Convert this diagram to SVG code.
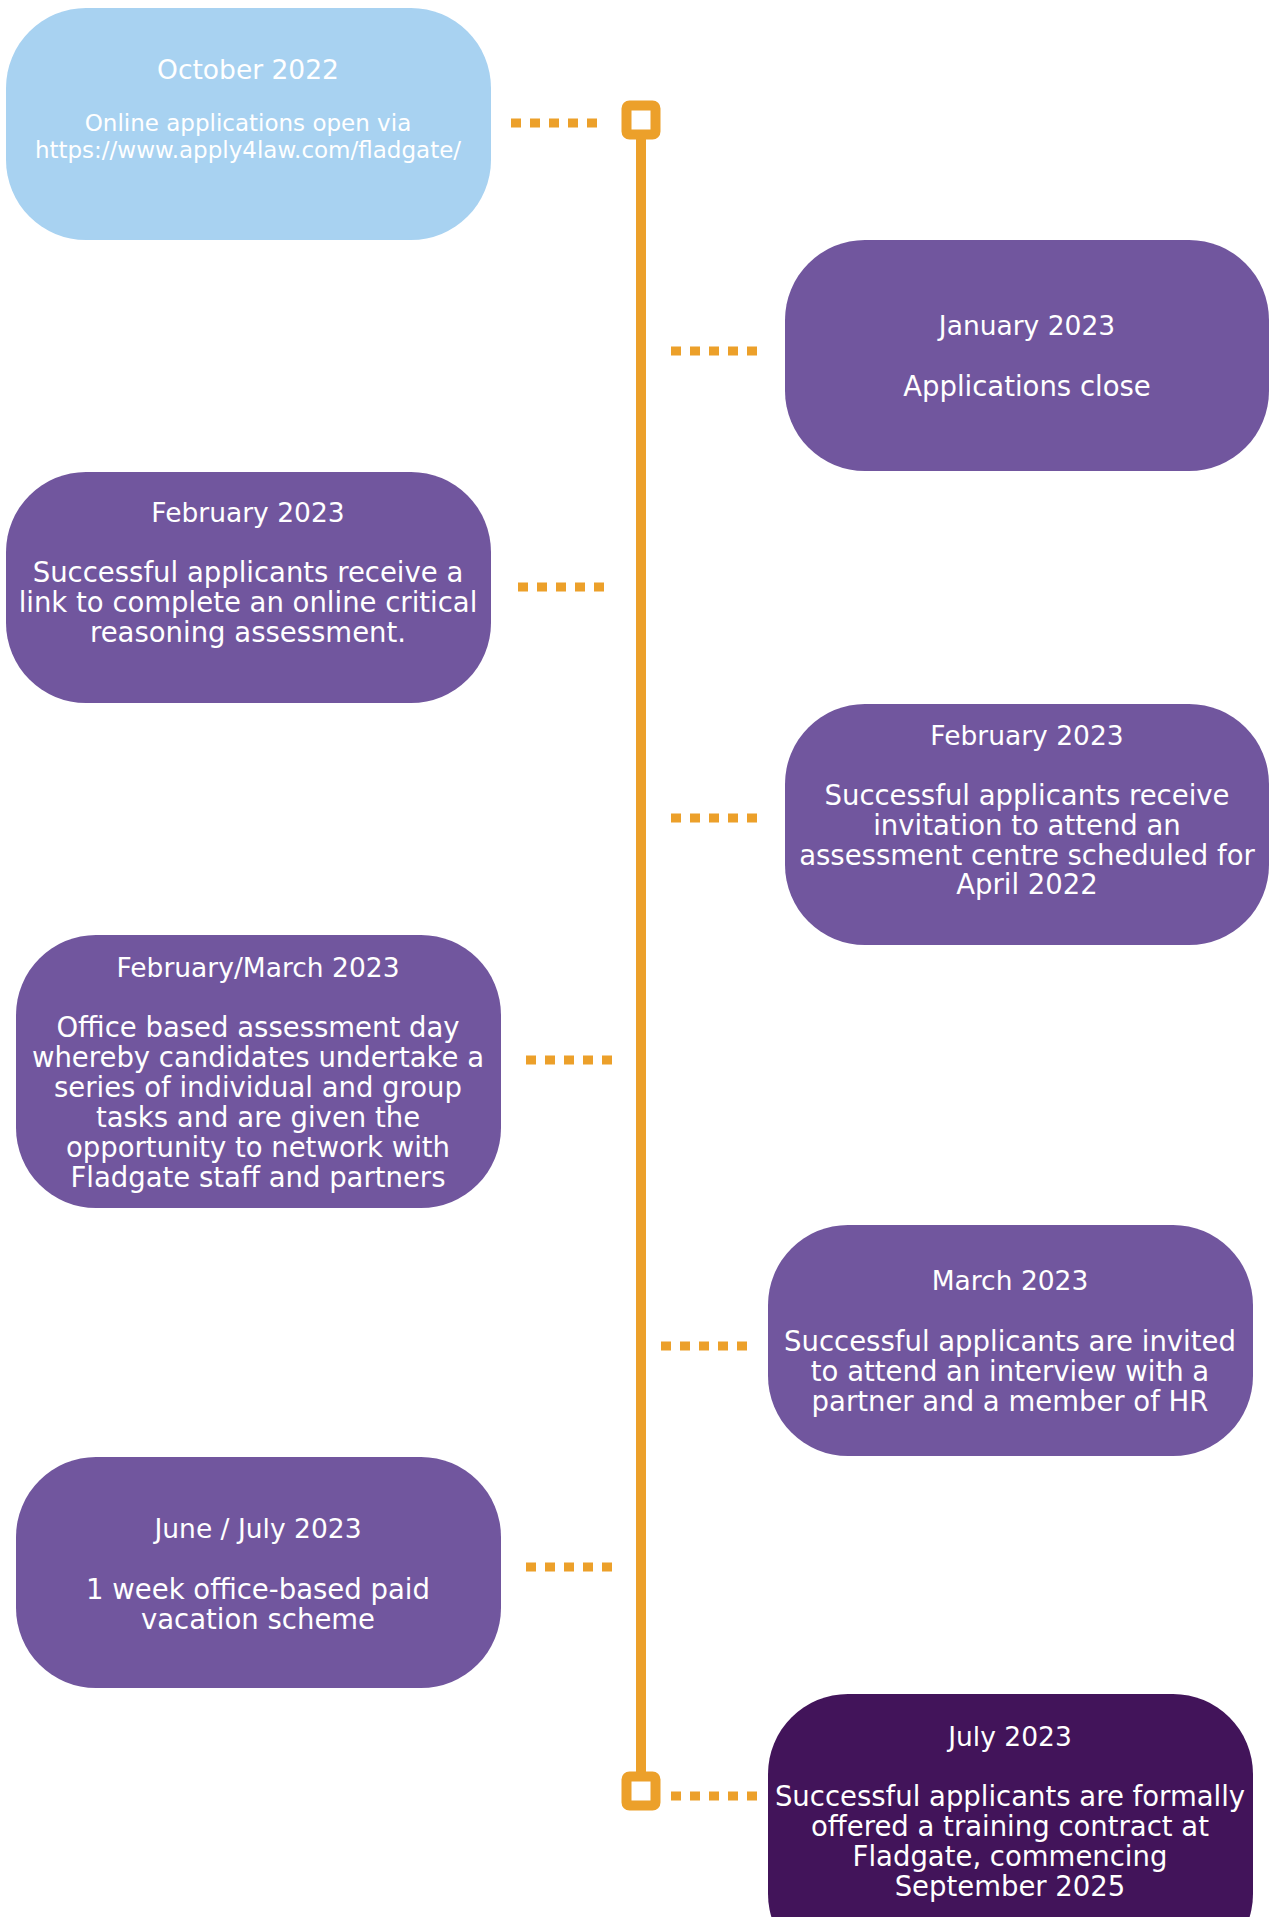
<svg xmlns="http://www.w3.org/2000/svg" width="1269" height="1917" viewBox="0 0 1269 1917">
<style>
.box{fill:#71569E}
.t{font-family:"DejaVu Sans",sans-serif;fill:#ffffff;text-anchor:middle}
.h{font-size:26.5px}
.b{font-size:27.5px}
.s{font-size:23px}
.dots{stroke:#ECA02A;stroke-width:9;stroke-dasharray:10 9;fill:none}
.line{stroke:#ECA02A;stroke-width:10;fill:none}
.mk{fill:#ffffff;stroke:#ECA02A;stroke-width:10}
</style>
<rect width="1269" height="1917" fill="#ffffff"/>
<g id="connectors">
<line class="line" x1="641" y1="135" x2="641" y2="1776"/>
<rect class="mk" x="626.5" y="105.5" width="29" height="29" rx="3"/>
<rect class="mk" x="626.5" y="1776.5" width="29" height="29" rx="3"/>
<line class="dots" x1="511" y1="123" x2="601" y2="123"/>
<line class="dots" x1="671" y1="351" x2="761" y2="351"/>
<line class="dots" x1="518" y1="587" x2="608" y2="587"/>
<line class="dots" x1="671" y1="818" x2="761" y2="818"/>
<line class="dots" x1="526" y1="1060" x2="616" y2="1060"/>
<line class="dots" x1="661" y1="1346" x2="751" y2="1346"/>
<line class="dots" x1="526" y1="1567" x2="616" y2="1567"/>
<line class="dots" x1="671" y1="1796" x2="761" y2="1796"/>
</g>
<g id="n1">
<rect x="6" y="8" width="485" height="232" rx="80" fill="#A8D2F1"/>
<text class="t h" x="248" y="79">October 2022</text>
<text class="t s" x="248" y="131">Online applications open via</text>
<text class="t s" x="248" y="158">https://www.apply4law.com/fladgate/</text>
</g>
<g id="n2">
<rect class="box" x="785" y="240" width="484" height="231" rx="80"/>
<text class="t h" x="1027" y="335">January 2023</text>
<text class="t b" x="1027" y="396">Applications close</text>
</g>
<g id="n3">
<rect class="box" x="6" y="472" width="485" height="231" rx="80"/>
<text class="t h" x="248" y="522">February 2023</text>
<text class="t b" x="248" y="582">Successful applicants receive a</text>
<text class="t b" x="248" y="612">link to complete an online critical</text>
<text class="t b" x="248" y="642">reasoning assessment.</text>
</g>
<g id="n4">
<rect class="box" x="785" y="704" width="484" height="241" rx="80"/>
<text class="t h" x="1027" y="745">February 2023</text>
<text class="t b" x="1027" y="805">Successful applicants receive</text>
<text class="t b" x="1027" y="835">invitation to attend an</text>
<text class="t b" x="1027" y="865">assessment centre scheduled for</text>
<text class="t b" x="1027" y="894">April 2022</text>
</g>
<g id="n5">
<rect class="box" x="16" y="935" width="485" height="273" rx="80"/>
<text class="t h" x="258" y="977">February/March 2023</text>
<text class="t b" x="258" y="1037">Office based assessment day</text>
<text class="t b" x="258" y="1067">whereby candidates undertake a</text>
<text class="t b" x="258" y="1097">series of individual and group</text>
<text class="t b" x="258" y="1127">tasks and are given the</text>
<text class="t b" x="258" y="1157">opportunity to network with</text>
<text class="t b" x="258" y="1187">Fladgate staff and partners</text>
</g>
<g id="n6">
<rect class="box" x="768" y="1225" width="485" height="231" rx="80"/>
<text class="t h" x="1010" y="1290">March 2023</text>
<text class="t b" x="1010" y="1351">Successful applicants are invited</text>
<text class="t b" x="1010" y="1381">to attend an interview with a</text>
<text class="t b" x="1010" y="1411">partner and a member of HR</text>
</g>
<g id="n7">
<rect class="box" x="16" y="1457" width="485" height="231" rx="80"/>
<text class="t h" x="258" y="1538">June / July 2023</text>
<text class="t b" x="258" y="1599">1 week office-based paid</text>
<text class="t b" x="258" y="1629">vacation scheme</text>
</g>
<g id="n8">
<rect x="768" y="1694" width="485" height="280" rx="80" fill="#42145A"/>
<text class="t h" x="1010" y="1746">July 2023</text>
<text class="t b" x="1010" y="1806">Successful applicants are formally</text>
<text class="t b" x="1010" y="1836">offered a training contract at</text>
<text class="t b" x="1010" y="1866">Fladgate, commencing</text>
<text class="t b" x="1010" y="1896">September 2025</text>
</g>
</svg>
